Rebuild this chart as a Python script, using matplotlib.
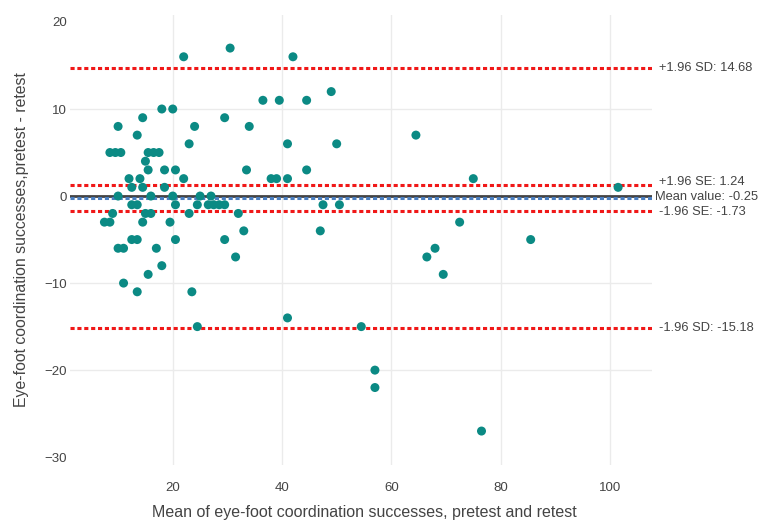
import matplotlib.pyplot as plt

plt.rcParams['font.family'] = ['Liberation Sans', 'DejaVu Sans']

# Bland-Altman data: mean of pretest/retest (x) and difference pretest - retest (y)
pair_mean = [30.5,
             22, 42,
             49,
             36.5, 39.5, 44.5,
             18, 20,
             14.5, 29.5,
             10, 24, 34,
             13.5, 64.5,
             23, 41, 50,
             8.5, 9.5, 10.5, 15.5, 16.5, 17.5,
             15,
             15.5, 18.5, 20.5, 33.5, 44.5,
             12, 14, 22, 38, 39, 41, 75,
             12.5, 14.5, 18.5, 101.5,
             10, 16, 20, 25, 27,
             12.5, 13.5, 20.5, 24.5, 26.5, 27.5, 28.5, 29.5, 47.5, 50.5,
             9, 15, 16, 23, 32,
             7.5, 8.5, 14.5, 19.5, 72.5,
             33, 47,
             12.5, 13.5, 20.5, 29.5, 85.5,
             10, 11, 17, 68,
             31.5, 66.5,
             18,
             15.5, 69.5,
             11,
             13.5, 23.5,
             41,
             24.5, 54.5,
             57,
             57,
             76.5]
pair_diff = [17,
             16, 16,
             12,
             11, 11, 11,
             10, 10,
             9, 9,
             8, 8, 8,
             7, 7,
             6, 6, 6,
             5, 5, 5, 5, 5, 5,
             4,
             3, 3, 3, 3, 3,
             2, 2, 2, 2, 2, 2, 2,
             1, 1, 1, 1,
             0, 0, 0, 0, 0,
             -1, -1, -1, -1, -1, -1, -1, -1, -1, -1,
             -2, -2, -2, -2, -2,
             -3, -3, -3, -3, -3,
             -4, -4,
             -5, -5, -5, -5, -5,
             -6, -6, -6, -6,
             -7, -7,
             -8,
             -9, -9,
             -10,
             -11, -11,
             -14,
             -15, -15,
             -20,
             -22,
             -27]

mean_diff = -0.25
limit_values = [14.68, 1.24, -1.73, -15.18]
limit_labels = ['+1.96 SD: 14.68', '+1.96 SE: 1.24', '-1.96 SE: -1.73', '-1.96 SD: -15.18']
label_shift = [0, 2.7, -0.8, 0]  # small vertical nudge (points) so SE labels clear the mean label

x_ticks = [20, 40, 60, 80, 100]
y_ticks = [-30, -20, -10, 0, 10, 20]

text_col = '#444444'

fig = plt.figure(figsize=(7.62, 5.23), dpi=100)
ax = fig.add_axes([70 / 762, 1 - 465 / 523, 582 / 762, 450 / 523])
ax.set_xlim(1.2, 107.7)
ax.set_ylim(-30.9, 20.8)

for s in ax.spines.values():
    s.set_visible(False)

# grid
for xv in x_ticks:
    ax.axvline(xv, color='#ebebeb', lw=1, zorder=0)
for yv in y_ticks[1:-1]:
    ax.axhline(yv, color='#ebebeb', lw=1, zorder=0)

# zero line and mean line
ax.axhline(0, color='#444444', lw=2, zorder=1)
ax.axhline(mean_diff, color='#4a7ec0', lw=2.2, ls=(0, (1.35, 0.9)), zorder=2)

for v in limit_values:
    ax.axhline(v, color='#f01818', lw=2.2, ls=(0, (1.35, 0.9)), zorder=2)

ax.scatter(pair_mean, pair_diff, s=42, color='#0b8a84', edgecolors='none', zorder=3)

trans = ax.get_yaxis_transform()
for v, lab, dy in zip(limit_values, limit_labels, label_shift):
    ax.annotate(lab, xy=(1.012, v), xycoords=trans, xytext=(0, dy), textcoords='offset points',
                va='center', ha='left', fontsize=9.3, color=text_col, annotation_clip=False)
ax.annotate('Mean value: -0.25', xy=(1.005, mean_diff), xycoords=trans, xytext=(0, 0.9),
            textcoords='offset points', va='center', ha='left', fontsize=9.3, color=text_col,
            annotation_clip=False)

ax.set_xticks(x_ticks)
ax.set_xticklabels([str(t) for t in x_ticks])
ax.set_yticks(y_ticks)
ax.set_yticklabels([str(t).replace('-', '\u2212') for t in y_ticks])
ax.tick_params(axis='x', length=0, pad=12, labelsize=9.5, labelcolor=text_col)
ax.tick_params(axis='y', length=0, pad=2, labelsize=9.5, labelcolor=text_col)

fig.text(22 / 762, 1 - 240 / 523, 'Eye-foot coordination successes,pretest - retest',
         rotation=90, ha='center', va='center', fontsize=11.4, color=text_col)
fig.text(364 / 762, 1 - 513 / 523, 'Mean of eye-foot coordination successes, pretest and retest',
         ha='center', va='center', fontsize=11.5, color=text_col)

fig.savefig('out.png', dpi=100)
